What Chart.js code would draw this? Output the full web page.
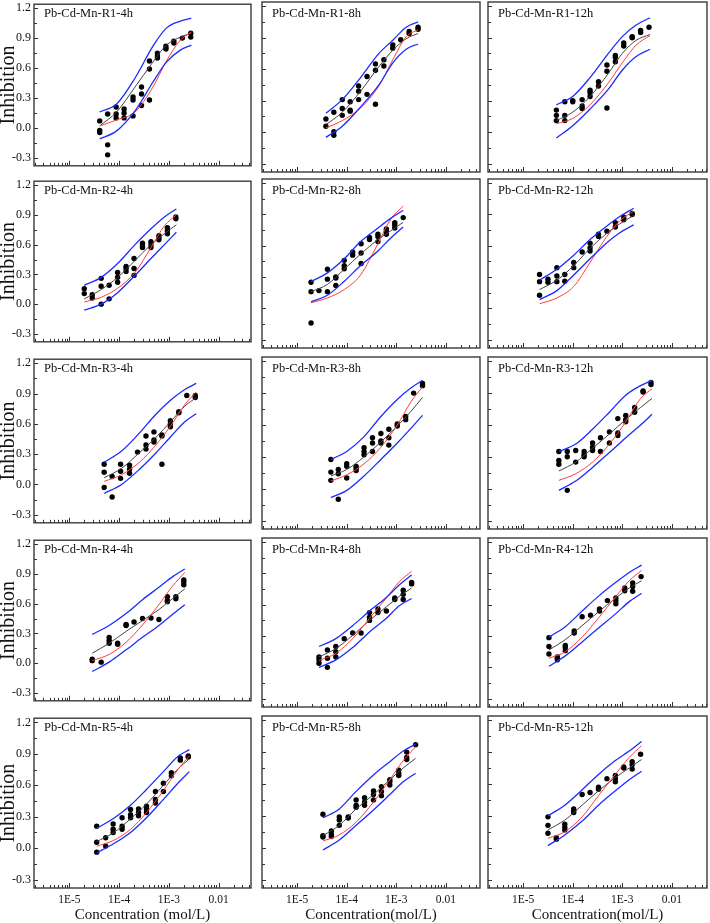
<!DOCTYPE html>
<html>
<head>
<meta charset="utf-8">
<script src="https://cdn.jsdelivr.net/npm/chart.js@4.4.1/dist/chart.umd.min.js"></script>
<style>
  body { margin: 0; background: #fff; width: 710px; height: 923px; position: relative; overflow: hidden; font-family: "Liberation Serif", serif; }
  canvas { position: absolute; }
  .tag { position: absolute; font-size: 12.5px; line-height: 13px; color: #111; white-space: nowrap; }
</style>
</head>
<body>
<script>
// panels in reading order (row by row)
const panelTitles = [
  'Pb-Cd-Mn-R1-4h', 'Pb-Cd-Mn-R1-8h', 'Pb-Cd-Mn-R1-12h',
  'Pb-Cd-Mn-R2-4h', 'Pb-Cd-Mn-R2-8h', 'Pb-Cd-Mn-R2-12h',
  'Pb-Cd-Mn-R3-4h', 'Pb-Cd-Mn-R3-8h', 'Pb-Cd-Mn-R3-12h',
  'Pb-Cd-Mn-R4-4h', 'Pb-Cd-Mn-R4-8h', 'Pb-Cd-Mn-R4-12h',
  'Pb-Cd-Mn-R5-4h', 'Pb-Cd-Mn-R5-8h', 'Pb-Cd-Mn-R5-12h'
];
const xTickValues = [1e-5, 1e-4, 1e-3, 1e-2];
const xTickLabels = ['1E-5', '1E-4', '1E-3', '0.01'];
const yTickValues = [-0.3, 0, 0.3, 0.6, 0.9, 1.2];
const yTickLabels = ['-0.3', '0.0', '0.3', '0.6', '0.9', '1.2'];

// log10 of the test concentrations (mol/L)
const doseLog = [
  [-4.39, -4.23, -4.06, -3.90, -3.72, -3.55, -3.39, -3.23, -3.06, -2.90, -2.73, -2.56],
  [-4.42, -4.26, -4.09, -3.93, -3.76, -3.59, -3.42, -3.25, -3.07, -2.91, -2.74, -2.56],
  [-4.33, -4.16, -4.00, -3.81, -3.65, -3.48, -3.31, -3.14, -2.97, -2.80, -2.63, -2.46],
  [-4.70, -4.54, -4.36, -4.20, -4.03, -3.86, -3.70, -3.53, -3.36, -3.20, -3.03, -2.86],
  [-4.72, -4.56, -4.39, -4.22, -4.05, -3.88, -3.71, -3.54, -3.37, -3.20, -3.03, -2.86],
  [-4.67, -4.50, -4.32, -4.16, -3.98, -3.81, -3.65, -3.48, -3.31, -3.14, -2.97, -2.80],
  [-4.30, -4.14, -3.97, -3.79, -3.63, -3.46, -3.30, -3.14, -2.97, -2.80, -2.64, -2.47],
  [-4.32, -4.17, -4.00, -3.81, -3.65, -3.48, -3.31, -3.15, -2.98, -2.81, -2.65, -2.47],
  [-4.28, -4.11, -3.94, -3.77, -3.60, -3.44, -3.26, -3.09, -2.93, -2.75, -2.58, -2.42],
  [-4.54, -4.36, -4.20, -4.03, -3.86, -3.70, -3.53, -3.36, -3.20, -3.03, -2.86, -2.70],
  [-4.56, -4.39, -4.22, -4.05, -3.88, -3.71, -3.54, -3.37, -3.20, -3.03, -2.86, -2.69],
  [-4.48, -4.31, -4.15, -3.97, -3.81, -3.64, -3.46, -3.30, -3.13, -2.95, -2.79, -2.62],
  [-4.45, -4.27, -4.12, -3.94, -3.77, -3.61, -3.45, -3.27, -3.11, -2.95, -2.77, -2.61],
  [-4.48, -4.31, -4.15, -3.97, -3.81, -3.64, -3.46, -3.30, -3.13, -2.95, -2.79, -2.61],
  [-4.50, -4.33, -4.16, -3.98, -3.81, -3.65, -3.48, -3.31, -3.14, -2.97, -2.80, -2.63]
];

// observed inhibition, replicates at each concentration
const observed = [
  [[0.07, -0.025, -0.047], [0.14, -0.17, -0.27], [0.21, 0.14, 0.10], [0.19, 0.15, 0.10], [0.31, 0.28, 0.12], [0.41, 0.34, 0.225], [0.67, 0.59, 0.28], [0.75, 0.72, 0.70], [0.82, 0.80, 0.79], [0.87, 0.85], [0.90], [0.95, 0.91]],
  [[0.125, 0.056], [0.19, 0.005, -0.03], [0.31, 0.225, 0.16], [0.29, 0.21, 0.20], [0.44, 0.39, 0.31], [0.53, 0.36], [0.65, 0.59, 0.265], [0.69, 0.63], [0.83, 0.80], [0.88], [0.96, 0.94], [1.0, 0.98]],
  [[0.21, 0.16, 0.11], [0.29, 0.16, 0.11], [0.30, 0.29], [0.31, 0.25, 0.225], [0.40, 0.375, 0.34], [0.48, 0.44], [0.64, 0.58, 0.23], [0.73, 0.71, 0.67], [0.85, 0.82], [0.91, 0.90], [0.97, 0.95], [1.0]],
  [[0.156, 0.106], [0.094, 0.062], [0.26, 0.18, 0.0], [0.19, 0.053], [0.32, 0.27, 0.22], [0.38, 0.36, 0.33], [0.46, 0.36, 0.29], [0.615, 0.59, 0.57], [0.63, 0.60, 0.57], [0.69, 0.67, 0.65], [0.77, 0.74, 0.71], [0.88, 0.86]],
  [[0.25, 0.16, -0.14], [0.17], [0.375, 0.28, 0.16], [0.30, 0.29, 0.22], [0.46, 0.41, 0.38], [0.54, 0.51], [0.62, 0.53, 0.43], [0.68, 0.66], [0.71, 0.69, 0.64], [0.76, 0.74, 0.71], [0.82, 0.80, 0.77], [0.87]],
  [[0.325, 0.256, 0.125], [0.28, 0.25], [0.39, 0.31, 0.256], [0.325, 0.26], [0.44, 0.39], [0.54], [0.625, 0.58, 0.55], [0.71, 0.69], [0.74], [0.82, 0.78], [0.875, 0.85], [0.91, 0.90]],
  [[0.20, 0.12, -0.03], [0.078, -0.125], [0.20, 0.13, 0.06], [0.19, 0.15, 0.11], [0.32], [0.48, 0.39, 0.35], [0.52, 0.44, 0.42], [0.49, 0.48, 0.20], [0.63, 0.60, 0.57], [0.72, 0.71], [0.88], [0.88, 0.86]],
  [[0.275, 0.156, 0.078], [0.18, 0.14, -0.10], [0.234, 0.21, 0.10], [0.21, 0.19, 0.17], [0.385, 0.35, 0.32], [0.48, 0.43, 0.35], [0.52, 0.45, 0.43], [0.56, 0.48, 0.41], [0.61, 0.59], [0.68, 0.65], [0.90], [0.99, 0.97]],
  [[0.35, 0.265, 0.23], [0.35, 0.30, -0.016], [0.36, 0.25], [0.35, 0.32, 0.30], [0.43, 0.39, 0.36], [0.48, 0.35], [0.535, 0.43], [0.66, 0.525, 0.50], [0.69, 0.65, 0.63], [0.765, 0.72], [0.92, 0.91], [1.0, 0.98]],
  [[0.04, 0.025], [0.01], [0.26, 0.23, 0.20], [0.20, 0.19], [0.39, 0.38], [0.415], [0.45], [0.455], [0.44], [0.67, 0.63, 0.62], [0.67, 0.65], [0.84, 0.82, 0.79]],
  [[0.10, 0.072, 0.04], [0.166, 0.0875, 0.0], [0.20, 0.15, 0.10], [0.275], [0.33], [0.33], [0.525, 0.48, 0.45], [0.56, 0.525], [0.54], [0.665, 0.65], [0.74, 0.70, 0.65], [0.815, 0.80]],
  [[0.285, 0.20, 0.128], [0.10, 0.0875, 0.072], [0.21, 0.19, 0.16], [0.35, 0.33], [0.485], [0.50], [0.56, 0.54], [0.64], [0.665, 0.64, 0.61], [0.76, 0.735], [0.81, 0.775, 0.73], [0.87]],
  [[0.21, 0.057, -0.038], [0.10, 0.02], [0.23, 0.18, 0.15], [0.29, 0.21, 0.18], [0.37, 0.32, 0.29], [0.375, 0.34, 0.31], [0.40, 0.37, 0.34], [0.54, 0.465, 0.43], [0.62, 0.54], [0.72, 0.69], [0.86, 0.84], [0.88, 0.87]],
  [[0.315, 0.113, 0.10], [0.157, 0.126, 0.104], [0.29, 0.26, 0.21], [0.29, 0.28], [0.45, 0.40, 0.38], [0.47, 0.43, 0.40], [0.535, 0.50, 0.45], [0.575, 0.53, 0.49], [0.64, 0.62, 0.59], [0.73, 0.70, 0.68], [0.90, 0.85, 0.83], [0.97]],
  [[0.29, 0.21, 0.135], [0.094, 0.08], [0.22, 0.19, 0.167], [0.365, 0.35, 0.33], [0.50], [0.52], [0.57, 0.55], [0.65], [0.68, 0.65, 0.62], [0.76, 0.75], [0.81, 0.78, 0.74], [0.88]]
];

// log10 concentration where the fitted curves were read
const curveLog = [
  [-4.39, -4.05, -3.68, -3.32, -3.05, -2.77, -2.55],
  [-4.42, -4.09, -3.72, -3.35, -3.07, -2.80, -2.56],
  [-4.33, -4.00, -3.65, -3.28, -3.00, -2.72, -2.44],
  [-4.70, -4.36, -4.03, -3.68, -3.36, -3.09, -2.85],
  [-4.72, -4.39, -4.05, -3.72, -3.37, -3.12, -2.86],
  [-4.67, -4.32, -3.98, -3.65, -3.31, -3.05, -2.77],
  [-4.30, -3.95, -3.59, -3.27, -2.95, -2.68, -2.45],
  [-4.32, -4.00, -3.65, -3.31, -2.98, -2.70, -2.47],
  [-4.28, -3.94, -3.60, -3.26, -2.93, -2.63, -2.40],
  [-4.54, -4.20, -3.86, -3.53, -3.20, -2.93, -2.68],
  [-4.56, -4.22, -3.88, -3.54, -3.20, -2.94, -2.69],
  [-4.48, -4.15, -3.81, -3.46, -3.13, -2.86, -2.61],
  [-4.45, -4.12, -3.77, -3.45, -3.11, -2.82, -2.59],
  [-4.48, -4.15, -3.81, -3.46, -3.13, -2.86, -2.61],
  [-4.50, -4.16, -3.81, -3.48, -3.14, -2.86, -2.61]
];
const fitBlack = [
  [0.02, 0.16, 0.41, 0.66, 0.83, 0.91, 0.95],
  [0.07, 0.19, 0.39, 0.625, 0.78, 0.89, 0.94],
  [0.11, 0.19, 0.34, 0.56, 0.75, 0.875, 0.93],
  [0.053, 0.147, 0.27, 0.44, 0.60, 0.71, 0.80],
  [0.16, 0.23, 0.375, 0.52, 0.66, 0.74, 0.825],
  [0.18, 0.27, 0.41, 0.575, 0.72, 0.81, 0.89],
  [0.066, 0.16, 0.315, 0.46, 0.63, 0.775, 0.86],
  [0.12, 0.18, 0.30, 0.44, 0.59, 0.73, 0.86],
  [0.166, 0.25, 0.38, 0.515, 0.65, 0.765, 0.85],
  [0.10, 0.20, 0.32, 0.43, 0.54, 0.65, 0.75],
  [0.10, 0.18, 0.306, 0.45, 0.58, 0.68, 0.76],
  [0.166, 0.266, 0.40, 0.54, 0.665, 0.76, 0.83],
  [0.063, 0.145, 0.28, 0.42, 0.60, 0.755, 0.85],
  [0.113, 0.21, 0.365, 0.50, 0.64, 0.75, 0.84],
  [0.167, 0.26, 0.40, 0.535, 0.66, 0.75, 0.83]
];
const fitRed = [
  [0.02, 0.08, 0.16, 0.41, 0.67, 0.88, 0.96],
  [0.04, 0.11, 0.23, 0.44, 0.69, 0.91, 0.975],
  [0.08, 0.13, 0.26, 0.47, 0.66, 0.83, 0.92],
  [0.022, 0.069, 0.16, 0.32, 0.57, 0.79, 0.90],
  [0.053, 0.10, 0.18, 0.32, 0.62, 0.85, 0.98],
  [0.044, 0.10, 0.21, 0.44, 0.69, 0.84, 0.93],
  [0.03, 0.097, 0.22, 0.385, 0.59, 0.79, 0.915],
  [0.072, 0.13, 0.234, 0.39, 0.60, 0.82, 0.96],
  [0.078, 0.14, 0.25, 0.42, 0.63, 0.85, 0.94],
  [0.025, 0.0875, 0.21, 0.385, 0.59, 0.775, 0.915],
  [0.066, 0.134, 0.275, 0.47, 0.665, 0.82, 0.92],
  [0.0875, 0.15, 0.29, 0.485, 0.68, 0.83, 0.93],
  [0.019, 0.072, 0.18, 0.34, 0.55, 0.75, 0.88],
  [0.063, 0.12, 0.24, 0.43, 0.64, 0.82, 0.95],
  [0.088, 0.15, 0.29, 0.49, 0.69, 0.85, 0.96]
];
const bandUpper = [
  [0.16, 0.24, 0.50, 0.82, 1.0, 1.07, 1.10],
  [0.18, 0.31, 0.52, 0.75, 0.875, 1.0, 1.05],
  [0.26, 0.34, 0.52, 0.75, 0.91, 1.02, 1.09],
  [0.19, 0.27, 0.41, 0.60, 0.76, 0.88, 0.96],
  [0.256, 0.34, 0.475, 0.64, 0.77, 0.86, 0.94],
  [0.27, 0.375, 0.51, 0.66, 0.79, 0.88, 0.96],
  [0.22, 0.33, 0.51, 0.69, 0.84, 0.94, 1.0],
  [0.275, 0.35, 0.49, 0.68, 0.84, 0.95, 1.02],
  [0.35, 0.42, 0.56, 0.72, 0.88, 0.97, 1.02],
  [0.29, 0.38, 0.50, 0.64, 0.765, 0.87, 0.95],
  [0.20, 0.275, 0.40, 0.54, 0.67, 0.79, 0.885],
  [0.29, 0.39, 0.54, 0.69, 0.815, 0.91, 0.98],
  [0.19, 0.28, 0.41, 0.56, 0.73, 0.875, 0.94],
  [0.28, 0.365, 0.53, 0.685, 0.81, 0.91, 0.975],
  [0.30, 0.40, 0.545, 0.69, 0.82, 0.91, 1.0]
];
const bandLower = [
  [-0.11, -0.03, 0.17, 0.46, 0.66, 0.78, 0.83],
  [-0.05, 0.056, 0.24, 0.45, 0.66, 0.79, 0.84],
  [-0.056, 0.06, 0.22, 0.41, 0.59, 0.72, 0.79],
  [-0.06, 0.0, 0.116, 0.29, 0.46, 0.60, 0.725],
  [0.0625, 0.125, 0.26, 0.41, 0.55, 0.67, 0.78],
  [0.084, 0.17, 0.32, 0.475, 0.63, 0.725, 0.80],
  [-0.09, 0.0, 0.15, 0.306, 0.48, 0.62, 0.70],
  [-0.084, -0.016, 0.12, 0.275, 0.43, 0.57, 0.69],
  [-0.016, 0.072, 0.20, 0.34, 0.48, 0.60, 0.70],
  [-0.084, 0.01, 0.134, 0.26, 0.38, 0.49, 0.59],
  [0.0, 0.072, 0.19, 0.34, 0.47, 0.59, 0.66],
  [0.01, 0.11, 0.244, 0.385, 0.515, 0.63, 0.71],
  [-0.044, 0.04, 0.15, 0.29, 0.465, 0.62, 0.73],
  [-0.022, 0.072, 0.21, 0.355, 0.50, 0.62, 0.70],
  [0.019, 0.12, 0.25, 0.40, 0.535, 0.64, 0.72]
];

// layout of the grid (box edges in page pixels)
const colLeft = [34, 262, 488];
const colRight = [251, 480, 707];
const rowTop = [2, 179, 357, 538, 716];
const rowBottom = [172, 348, 529, 707, 888];
const xLogRange = [[-5.71, -1.35], [-5.71, -1.31], [-5.71, -1.29]];
const yMin = -0.38, yMax = 1.24;

const FONT = 'Liberation Serif';
const INK = '#111';

// box frame + inward tick marks
const framePlugin = {
  id: 'frame',
  afterDraw(chart) {
    const { ctx, chartArea: a, scales: { x, y } } = chart;
    ctx.save();
    ctx.strokeStyle = '#333';
    ctx.lineWidth = 1;
    ctx.beginPath();
    yTickValues.forEach(v => {
      const py = Math.round(y.getPixelForValue(v)) + 0.5;
      ctx.moveTo(a.left, py); ctx.lineTo(a.left + 4, py);
      const m = v + 0.15;
      if (m < yMax) {
        const pm = Math.round(y.getPixelForValue(m)) + 0.5;
        ctx.moveTo(a.left, pm); ctx.lineTo(a.left + 3, pm);
      }
    });
    for (let e = -7; e <= -1; e++) {
      for (let k = 1; k <= 9; k++) {
        const v = k * Math.pow(10, e);
        if (v < x.min || v > x.max) continue;
        const px = Math.round(x.getPixelForValue(v)) + 0.5;
        ctx.moveTo(px, a.bottom);
        ctx.lineTo(px, a.bottom - (k === 1 ? 5 : 3));
      }
    }
    ctx.stroke();
    ctx.lineWidth = 1.4;
    ctx.strokeStyle = '#3a3a3a';
    ctx.strokeRect(a.left, a.top, a.right - a.left, a.bottom - a.top);
    ctx.restore();
  }
};

function curve(i, arr, color, width) {
  return {
    data: curveLog[i].map((lx, k) => ({ x: Math.pow(10, lx), y: arr[i][k] })),
    showLine: true,
    borderColor: color,
    borderWidth: width,
    pointRadius: 0,
    fill: false,
    cubicInterpolationMode: 'monotone'
  };
}

panelTitles.forEach((name, i) => {
  const row = Math.floor(i / 3), col = i % 3;
  const L = col === 0 ? 34 : 6, R = 4, T = 8, B = row === 4 ? 35 : 4;
  const boxW = colRight[col] - colLeft[col];
  const boxH = rowBottom[row] - rowTop[row];

  const canvas = document.createElement('canvas');
  canvas.width = boxW + L + R;
  canvas.height = boxH + T + B;
  canvas.style.left = (colLeft[col] - L) + 'px';
  canvas.style.top = (rowTop[row] - T) + 'px';
  canvas.style.width = canvas.width + 'px';
  canvas.style.height = canvas.height + 'px';
  document.body.appendChild(canvas);

  const tag = document.createElement('div');
  tag.className = 'tag';
  tag.textContent = name;
  tag.style.left = (colLeft[col] + 10) + 'px';
  tag.style.top = (rowTop[row] + 5) + 'px';
  document.body.appendChild(tag);

  const points = [];
  doseLog[i].forEach((lx, k) => observed[i][k].forEach(v => points.push({ x: Math.pow(10, lx), y: v })));

  new Chart(canvas, {
    type: 'scatter',
    data: {
      datasets: [
        curve(i, bandUpper, '#1c2cff', 1.3),
        curve(i, bandLower, '#1c2cff', 1.3),
        curve(i, fitRed, '#ff3c3c', 1),
        curve(i, fitBlack, '#444', 1),
        { data: points, showLine: false, pointRadius: 2.7, backgroundColor: '#000', borderWidth: 0 }
      ]
    },
    options: {
      responsive: false,
      animation: false,
      events: [],
      layout: { padding: { top: T, right: R, left: 0, bottom: 0 } },
      plugins: { legend: { display: false }, tooltip: { enabled: false } },
      scales: {
        x: {
          type: 'logarithmic',
          min: Math.pow(10, xLogRange[col][0]),
          max: Math.pow(10, xLogRange[col][1]),
          grid: { display: false, drawTicks: false },
          border: { display: false },
          afterBuildTicks: s => { s.ticks = xTickValues.map(v => ({ value: v })); },
          afterFit: s => { s.height = B; },
          ticks: {
            display: row === 4, autoSkip: false, maxRotation: 0, padding: 5, color: INK,
            font: { family: FONT, size: 11.5 },
            callback: v => xTickLabels[xTickValues.indexOf(v)]
          },
          title: {
            display: row === 4,
            text: col === 0 ? 'Concentration (mol/L)' : 'Concentration(mol/L)',
            color: INK, padding: 0,
            font: { family: FONT, size: 15, lineHeight: 1 }
          }
        },
        y: {
          min: yMin, max: yMax,
          grid: { display: false, drawTicks: false },
          border: { display: false },
          afterBuildTicks: s => { s.ticks = yTickValues.map(v => ({ value: v })); },
          afterFit: s => { s.width = L; },
          ticks: {
            display: col === 0, padding: 3, color: INK,
            font: { family: FONT, size: 12 },
            callback: v => yTickLabels[yTickValues.indexOf(v)]
          },
          title: {
            display: col === 0, text: 'Inhibition', color: INK, padding: 0,
            font: { family: FONT, size: 20, lineHeight: 0.85 }
          }
        }
      }
    },
    plugins: [framePlugin]
  });
});
</script>
</body>
</html>
